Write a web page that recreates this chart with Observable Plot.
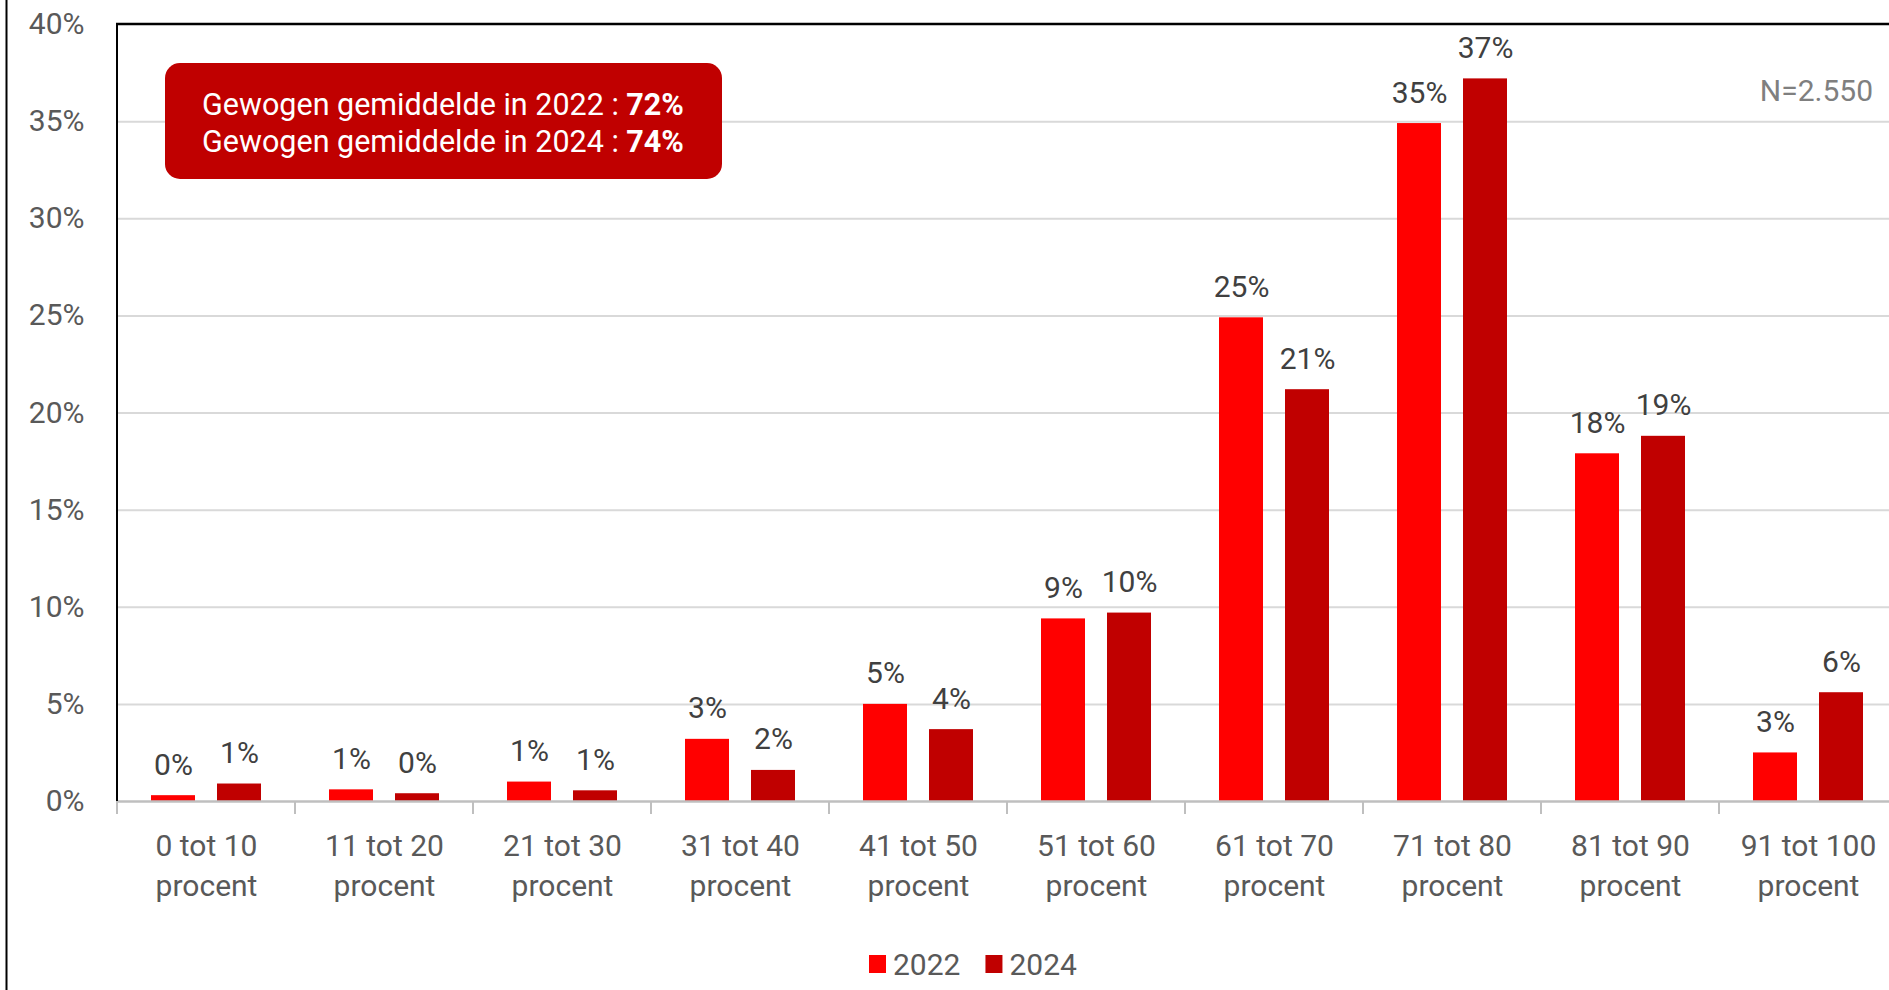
<!DOCTYPE html>
<html><head><meta charset="utf-8">
<script src="https://cdn.jsdelivr.net/npm/d3@7"></script>
<script src="https://cdn.jsdelivr.net/npm/@observablehq/plot@0.6"></script>
<style>
html,body{margin:0;padding:0;background:#fff;}
#chart{width:1889px;height:990px;overflow:hidden;}
</style></head><body><div id="chart"></div>
<script>
const categories = ["0 tot 10 procent","11 tot 20 procent","21 tot 30 procent","31 tot 40 procent","41 tot 50 procent","51 tot 60 procent","61 tot 70 procent","71 tot 80 procent","81 tot 90 procent","91 tot 100 procent"];
const years = ["2022","2024"];
const values2022 = [0.3, 0.6, 1.0, 3.2, 5.0, 9.4, 24.9, 34.9, 17.9, 2.5];
const values2024 = [0.9, 0.4, 0.55, 1.6, 3.7, 9.7, 21.2, 37.2, 18.8, 5.6];
const yTicks = [0,5,10,15,20,25,30,35,40];
const colors = ["#ff0000","#c00000"];
const averageLabels = ["Gewogen gemiddelde in 2022 : ","Gewogen gemiddelde in 2024 : "];
const averageValues = ["72%","74%"];
const sampleNote = "N=2.550";

const series = {"2022": values2022, "2024": values2024};
const data = years.flatMap(yr => categories.map((c,i) => ({category:c, year:yr, value:series[yr][i]})));
const FONT = "Roboto, sans-serif";

const chart = Plot.plot({
  width: 1889, height: 990,
  marginTop: 24, marginLeft: 117, marginRight: -8, marginBottom: 189,
  style: {fontFamily: FONT, fontSize: "30px", color: "#595959", background: "#fff", overflow: "hidden"},
  fx: {domain: categories, padding: 0, axis: null},
  x: {domain: years, paddingInner: 0.333, paddingOuter: 0.5, axis: null},
  y: {domain: [0,40], axis: null},
  color: {domain: years, range: colors},
  marks: [
    Plot.gridY(yTicks.slice(1,-1), {stroke:"#d9d9d9", strokeOpacity:1, strokeWidth:2}),
    Plot.axisY(yTicks, {tickSize:0, tickPadding:33, tickFormat: d => d + "%", fill:"#595959", fontSize:30, label:null}),
    Plot.axisFx({anchor:"bottom", tickSize:0, tickPadding:26, lineHeight:1.33, fill:"#595959", fontSize:30, label:null,
      tickFormat: d => d.replace(" procent", "\nprocent")}),
    Plot.barY(data, {fx:"category", x:"year", y:"value", fill:"year"}),
    Plot.ruleY([0], {stroke:"#bfbfbf", strokeWidth:2.5}),
    Plot.text(data, {fx:"category", x:"year", y:"value", text: d => Math.round(d.value) + "%", lineAnchor:"bottom", dy:-21, fill:"#404040", fontSize:30})
  ]
});
document.getElementById("chart").appendChild(chart);

const svg = d3.select(chart);
const fxs = chart.scale("fx"), ys = chart.scale("y"), cs = chart.scale("color");
const y0 = ys.apply(0), yTop = ys.apply(40);
const xLeft = fxs.apply(categories[0]);
const g = svg.append("g").attr("text-anchor", "start").attr("font-family", FONT);
// boundary ticks on x axis
const bounds = categories.map(c => fxs.apply(c)).concat([fxs.apply(categories[categories.length-1]) + fxs.bandwidth]);
g.selectAll("line.tk").data(bounds).join("line")
  .attr("x1", d => d).attr("x2", d => d).attr("y1", y0).attr("y2", y0 + 13)
  .attr("stroke", "#bfbfbf").attr("stroke-width", 2);
// frame lines
g.append("line").attr("x1", xLeft - 1).attr("x2", 1889).attr("y1", yTop).attr("y2", yTop).attr("stroke", "#000").attr("stroke-width", 2.5);
g.append("line").attr("x1", xLeft).attr("x2", xLeft).attr("y1", yTop).attr("y2", y0).attr("stroke", "#000").attr("stroke-width", 2);
g.append("line").attr("x1", 6.5).attr("x2", 6.5).attr("y1", 0).attr("y2", 990).attr("stroke", "#000").attr("stroke-width", 2);
// annotation box
g.append("rect").attr("x", 165).attr("y", 63).attr("width", 557).attr("height", 116).attr("rx", 15).attr("fill", "#c00000");
averageLabels.forEach((lab, i) => {
  const t = g.append("text").attr("x", 443).attr("y", 115 + i * 37).attr("text-anchor", "middle")
    .attr("fill", "#fff").attr("font-size", 30.5);
  t.append("tspan").text(lab);
  t.append("tspan").attr("font-weight", "bold").text(averageValues[i]);
});
// sample note
g.append("text").attr("x", 1873).attr("y", 101).attr("text-anchor", "end").attr("fill", "#7f7f7f")
  .attr("font-size", 30).text(sampleNote);
// legend
let lx = 869;
years.forEach(yr => {
  g.append("rect").attr("x", lx).attr("y", 955).attr("width", 17).attr("height", 18).attr("fill", cs.apply(yr));
  const t = g.append("text").attr("x", lx + 24).attr("y", 975).attr("text-anchor", "start").attr("fill", "#595959")
    .attr("font-size", 30).text(yr);
  lx += 24 + t.node().getComputedTextLength() + 25;
});
</script></body></html>
